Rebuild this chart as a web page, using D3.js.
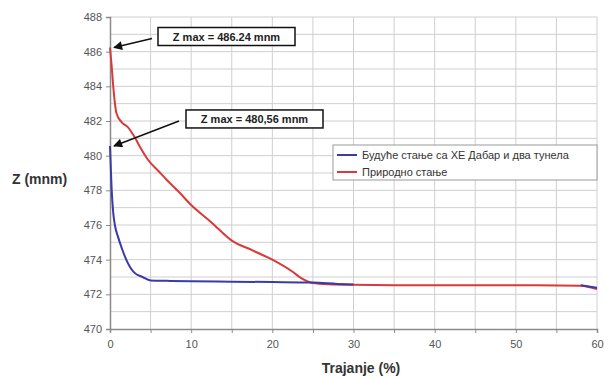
<!DOCTYPE html>
<html lang="en">
	<head>
		<meta charset="utf-8">
		<title>Z - Trajanje</title>
		<script type="text/javascript" src="https://cdn.jsdelivr.net/npm/d3@7"></script>
		<style type="text/css">
			body { margin: 0; background: #fff; }
			svg { font-family: "Liberation Sans", Arial, sans-serif; }
		</style>
	</head>
	<body>
		<script type="text/javascript">
			//Data
			var seriesNames = ["Будуће стање са ХЕ Дабар и два тунела", "Природно стање"];
			var seriesColors = ["#3a3aa8", "#d83a3a"];

			var blueX = [0, 0.1, 0.2, 0.4, 0.6, 1.0, 1.5, 2.0, 2.5, 3.0, 4.0, 5.0, 7, 10, 15, 20, 25, 28, 30, 40, 50, 58, 60];
			var blueY = [480.56, 479.3, 478.1, 476.7, 476.0, 475.3, 474.6, 474.0, 473.55, 473.25, 473.0, 472.8, 472.78, 472.76, 472.73, 472.71, 472.68, 472.6, 472.56, 472.54, 472.53, 472.52, 472.38];

			var redX = [0, 0.2, 0.4, 0.8, 1.4, 2.2, 3.0, 3.7, 4.7, 6.0, 7.0, 8.5, 10, 12.5, 15, 17.5, 20, 22.5, 23.5, 24.5, 25, 27, 30, 35, 40, 50, 58, 60];
			var redY = [486.24, 485.2, 484.0, 482.45, 481.95, 481.65, 481.1, 480.5, 479.75, 479.1, 478.6, 477.9, 477.15, 476.15, 475.1, 474.55, 474.0, 473.3, 472.95, 472.72, 472.65, 472.58, 472.55, 472.53, 472.52, 472.52, 472.5, 472.3];

			var xTicks = [0, 10, 20, 30, 40, 50, 60];
			var yTicks = [470, 472, 474, 476, 478, 480, 482, 484, 486, 488];

			var annotTexts = ["Z max = 486.24 mnm", "Z max = 480,56 mnm"];
			var annotValues = [486.24, 480.56];

			//Width and height
			var w = 605;
			var h = 378;
			var margin = {left: 110, right: 8, top: 17, bottom: 49};

			var svg = d3.select("body")
						.append("svg")
						.attr("width", w)
						.attr("height", h);

			var x = d3.scaleLinear()
					  .domain([0, 60])
					  .range([margin.left, w - margin.right]);

			var y = d3.scaleLinear()
					  .domain([470, 488])
					  .range([h - margin.bottom, margin.top]);

			//Gridlines: every 5 on x, every 1 on y
			svg.append("g")
			   .selectAll("line")
			   .data(d3.range(471, 489, 1))
			   .enter()
			   .append("line")
			   .attr("x1", x(0))
			   .attr("x2", x(60))
			   .attr("y1", function(d) { return y(d); })
			   .attr("y2", function(d) { return y(d); })
			   .style("stroke", "#cfcfcf")
			   .style("stroke-width", 1);

			svg.append("g")
			   .selectAll("line")
			   .data(d3.range(5, 61, 5))
			   .enter()
			   .append("line")
			   .attr("x1", function(d) { return x(d); })
			   .attr("x2", function(d) { return x(d); })
			   .attr("y1", y(470))
			   .attr("y2", y(488))
			   .style("stroke", "#cfcfcf")
			   .style("stroke-width", 1);

			//Axes
			var xAxis = d3.axisBottom(x)
						  .tickValues(d3.range(0, 61, 5))
						  .tickSize(4)
						  .tickFormat(function(d) { return xTicks.indexOf(d) >= 0 ? d : ""; });

			var yAxis = d3.axisLeft(y)
						  .tickValues(yTicks)
						  .tickSize(4)
						  .tickPadding(4);

			var gx = svg.append("g")
						.attr("transform", "translate(0," + y(470) + ")")
						.call(xAxis);
			var gy = svg.append("g")
						.attr("transform", "translate(" + x(0) + ",0)")
						.call(yAxis);

			[gx, gy].forEach(function(g) {
				g.select(".domain").style("stroke", "#8a8a8a").style("stroke-width", 1.5);
				g.selectAll(".tick line").style("stroke", "#8a8a8a");
				g.selectAll(".tick text")
				 .style("fill", "#555")
				 .style("font-size", "11px")
				 .style("font-family", "'Liberation Sans', Arial, sans-serif");
			});
			gx.selectAll(".tick text").attr("dy", "1.1em");

			//Axis titles
			svg.append("text")
			   .attr("x", 12)
			   .attr("y", 184)
			   .style("font-size", "14px")
			   .style("font-weight", "bold")
			   .style("fill", "#333")
			   .text("Z (mnm)");

			svg.append("text")
			   .attr("x", 361)
			   .attr("y", 373)
			   .attr("text-anchor", "middle")
			   .style("font-size", "14px")
			   .style("font-weight", "bold")
			   .style("fill", "#333")
			   .text("Trajanje (%)");

			//Lines
			var line = d3.line()
						 .x(function(d) { return x(d[0]); })
						 .y(function(d) { return y(d[1]); })
						 .curve(d3.curveMonotoneX);

			var blueData = d3.zip(blueX, blueY);
			var redData = d3.zip(redX, redY);

			svg.append("path")
			   .datum(redData)
			   .attr("d", line)
			   .style("fill", "none")
			   .style("stroke", seriesColors[1])
			   .style("stroke-width", 2);

			svg.append("path")
			   .datum(blueData.filter(function(d) { return d[0] <= 31; }))
			   .attr("d", line)
			   .style("fill", "none")
			   .style("stroke", seriesColors[0])
			   .style("stroke-width", 2);

			svg.append("path")
			   .datum(blueData.filter(function(d) { return d[0] >= 58; }))
			   .attr("d", line)
			   .style("fill", "none")
			   .style("stroke", seriesColors[0])
			   .style("stroke-width", 2);

			//Legend
			var legend = svg.append("g")
							.attr("transform", "translate(333,145)");

			legend.append("rect")
				  .attr("width", 264)
				  .attr("height", 35)
				  .style("fill", "#fff")
				  .style("stroke", "#999")
				  .style("stroke-width", 1);

			seriesNames.forEach(function(name, i) {
				legend.append("line")
					  .attr("x1", 4)
					  .attr("x2", 24)
					  .attr("y1", 10 + i * 17)
					  .attr("y2", 10 + i * 17)
					  .style("stroke", seriesColors[i])
					  .style("stroke-width", 2);
				legend.append("text")
					  .attr("x", 29)
					  .attr("y", 14 + i * 17)
					  .style("font-size", "11px")
					  .style("fill", "#333")
					  .text(name);
			});

			//Annotations with arrows
			svg.append("defs")
			   .append("marker")
			   .attr("id", "arrow")
			   .attr("viewBox", "0 0 10 10")
			   .attr("refX", 9)
			   .attr("refY", 5)
			   .attr("markerWidth", 7)
			   .attr("markerHeight", 6)
			   .attr("orient", "auto")
			   .append("path")
			   .attr("d", "M0,0 L10,5 L0,10 z")
			   .style("fill", "#111");

			var boxOffsets = [[44, -20, 38, -9], [72, -36, 65, -25]];

			annotValues.forEach(function(v, i) {
				var px = x(0) + 4;
				var py = y(v);
				var o = boxOffsets[i];
				svg.append("line")
				   .attr("x1", px + o[2])
				   .attr("y1", py + o[3])
				   .attr("x2", px)
				   .attr("y2", py)
				   .attr("marker-end", "url(#arrow)")
				   .style("stroke", "#111")
				   .style("stroke-width", 1.5);
				svg.append("rect")
				   .attr("x", px + o[0])
				   .attr("y", py + o[1])
				   .attr("width", 137)
				   .attr("height", 18)
				   .style("fill", "#fff")
				   .style("stroke", "#111")
				   .style("stroke-width", 1.5);
				svg.append("text")
				   .attr("x", px + o[0] + 68.5)
				   .attr("y", py + o[1] + 13)
				   .attr("text-anchor", "middle")
				   .style("font-size", "11px")
				   .style("font-weight", "bold")
				   .style("fill", "#222")
				   .text(annotTexts[i]);
			});
		</script>
	</body>
</html>
